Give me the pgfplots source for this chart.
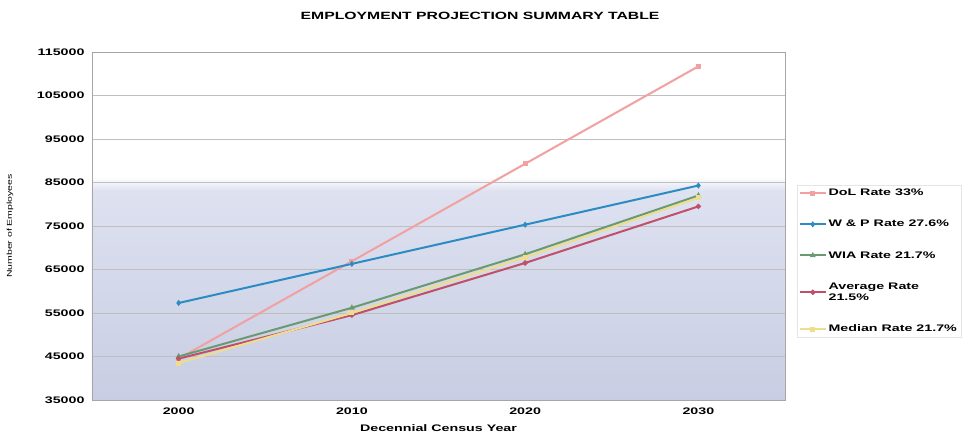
\documentclass[border=0pt]{standalone}
\usepackage{fontspec}
\setmainfont{Liberation Sans}[FakeStretch=1.5]
\usepackage{pgfplots}
\pgfplotsset{compat=1.18}
\definecolor{dolc}{HTML}{F2A0A0}
\definecolor{wpc}{HTML}{2B8CC4}
\definecolor{wiac}{HTML}{6A9A72}
\definecolor{avgc}{HTML}{C0506A}
\definecolor{medc}{HTML}{EEDD8C}
\definecolor{lavB}{HTML}{C8CDE3}
\definecolor{lavT}{HTML}{DDE1F0}
\pgfdeclareverticalshading{bgshade}{100bp}{color(0bp)=(lavB); color(25bp)=(lavB); color(55bp)=(lavT); color(57bp)=(white); color(100bp)=(white)}
\begin{document}
\begin{tikzpicture}
\begin{axis}[
  scale only axis,
  width=693pt, height=348pt,
  xmin=1995, xmax=2035,
  ymin=35000, ymax=115000,
  xtick={2000,2010,2020,2030},
  xticklabels={2000,2010,2020,2030},
  ytick={35000,45000,55000,65000,75000,85000,95000,105000,115000},
  yticklabels={35000,45000,55000,65000,75000,85000,95000,105000,115000},
  scaled ticks=false,
  tick label style={font=\bfseries\fontsize{9.5}{11}\selectfont},
  y tick label style={xshift=-4pt},
  x tick label style={yshift=-4pt},
  tick style={draw=none},
  axis line style={black!35},
  ymajorgrids,
  major grid style={black!25, line width=0.5pt},
  axis background/.style={shading=bgshade},
  title={EMPLOYMENT PROJECTION SUMMARY TABLE},
  title style={font=\bfseries\fontsize{10.5}{12}\selectfont, at={(0.56,1)}, anchor=center, yshift=30pt},
  xlabel={Decennial Census Year},
  every axis x label/.style={at={(axis description cs:0.5,0)}, anchor=center, yshift=-28pt, font=\bfseries\fontsize{9.5}{11}\selectfont},
  ylabel={Number of Employees},
  every axis y label/.style={at={(axis description cs:0,0.5)}, xshift=-82pt, rotate=90, anchor=center, font=\fontsize{7}{8}\selectfont},
  legend style={at={(rel axis cs:1.017,0.618)}, anchor=north west, draw=black!10, fill=white,
    font=\bfseries\fontsize{9.5}{11.5}\selectfont, row sep=19pt, inner sep=2pt,
    cells={anchor=west, align=left}},
  legend cell align=left,
  legend image code/.code={\draw[mark repeat=2,mark phase=2] plot coordinates {(0cm,0cm) (0.45cm,0cm) (0.9cm,0cm)};},
  every axis plot/.append style={line width=2pt, mark size=1.5pt},
]
\addplot[color=dolc, mark=square*] coordinates {(2000,44500) (2010,66900) (2020,89300) (2030,111700)};
\addlegendentry{DoL Rate 33\%}
\addplot[color=wpc, mark=diamond*] coordinates {(2000,57300) (2010,66300) (2020,75300) (2030,84300)};
\addlegendentry{W \& P Rate 27.6\%}
\addplot[color=wiac, mark=triangle*] coordinates {(2000,45000) (2010,56200) (2020,68500) (2030,82000)};
\addlegendentry{WIA Rate 21.7\%}
\addplot[color=avgc, mark=*] coordinates {(2000,44500) (2010,54500) (2020,66500) (2030,79500)};
\addlegendentry{{Average Rate\\21.5\%}}
\addplot[color=medc, mark=square*] coordinates {(2000,43500) (2010,55000) (2020,67800) (2030,81500)};
\addlegendentry{Median Rate 21.7\%}
\end{axis}
\pgfresetboundingbox
\path (-92pt,-35pt) rectangle (871pt,400pt);
\end{tikzpicture}
\end{document}
